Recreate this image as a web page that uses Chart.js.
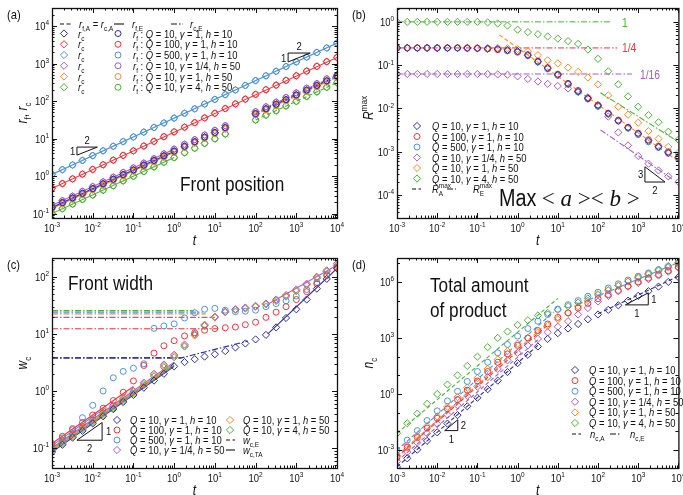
<!DOCTYPE html>
<html><head><meta charset="utf-8">
<script src="https://cdn.jsdelivr.net/npm/chart.js@4.4.0/dist/chart.umd.min.js"></script>
<style>
html,body{margin:0;padding:0;background:#fff;}
#wrap{position:relative;width:683px;height:495px;overflow:hidden;background:#fff;}
canvas{position:absolute;}
</style></head><body>
<div id="wrap">
<canvas id="pa" width="345" height="248" style="left:0;top:0"></canvas>
<canvas id="pb" width="338" height="248" style="left:345px;top:0"></canvas>
<canvas id="pc" width="345" height="247" style="left:0;top:248px"></canvas>
<canvas id="pd" width="338" height="247" style="left:345px;top:248px"></canvas>
</div>
<script>
// sample times (shared by every panel)
const tGrid = [0.001,0.0018,0.0032,0.0056,0.01,0.018,0.032,0.056,0.1,0.18,0.32,0.56,1,1.8,3.2,5.6,10,18,32,56,100,180,320,560,1000,1800,3200,5600,10000];
const xTicks = [1e-3,1e-2,1e-1,1,10,100,1000,1e4];

// series: navy, red, light blue, purple, orange, green
const Q = ['10','100','500','10','10','10'];
const G = ['1','1','1','1/4','1','4'];
const H = ['10','10','10','50','50','50'];
const colors = ['#2d2d9b','#e8363d','#4f93d2','#a45dbd','#f48a2a','#4dae3b'];
const marks = ['rectRot','circle','circle','rectRot','rectRot','rectRot'];

// (a) front position r_f / r_c
const aNavy   = [0.145,0.195,0.26,0.345,0.46,0.62,0.82,1.09,1.45,1.95,2.6,3.45,4.6,6.2,8.2,10.9,14.5,19.5,null,null,46,62,82,109,145,195,260,345,460];
const aRed    = [0.47,0.63,0.84,1.12,1.5,2.0,2.65,3.55,4.7,6.3,8.4,11.2,15,20,26.5,35.5,47,63,84,112,150,200,265,355,470,630,840,1120,1450];
const aBlue   = [1.1,1.48,1.97,2.6,3.5,4.7,6.2,8.3,11,14.8,19.7,26,35,47,62,83,110,148,197,260,350,470,620,830,1100,1480,1970,2600,3500];
const aPurple = [0.165,0.22,0.29,0.39,0.52,0.7,0.93,1.24,1.65,2.2,2.9,3.9,5.2,7,9.3,12.4,16.5,22,null,null,52,70,93,124,165,220,290,390,490];
const aOrange = [0.135,0.18,0.24,0.32,0.43,0.57,0.76,1.01,1.35,1.8,2.4,3.2,4.3,5.8,7.6,10.2,13.5,18,null,null,43,58,76,102,135,180,240,320,430];
const aGreen  = [0.1,0.134,0.178,0.237,0.31,0.42,0.55,0.74,0.98,1.32,1.75,2.33,3.1,4.2,5.5,7.4,9.8,13.2,null,null,31,42,55,74,98,132,175,233,310];
const aYTicks = [0.1,1,10,100,1000,1e4];
const aFullT = [0.001,10000];
const aFullBlue = [1.1,3500];
const aFullRed = [0.47,1450];
const aEarlyT = [0.001,1];
const aEarly = [[0.145,4.6],[0.165,5.2],[0.135,4.3],[0.1,3.1]];
const aLateT = [100,10000];
const aLate = [[46,460],[50,490],[43,430],[31,310]];

// (b) R^max
const bNavy   = [0.25,0.25,0.25,0.25,0.25,0.25,0.25,0.248,0.245,0.24,0.235,0.225,0.21,0.17,0.12,0.085,0.06,0.037,0.025,0.017,0.0115,0.0076,0.0052,0.0036,0.0026,0.0018,0.0013,0.00095,0.00074];
const bRed    = [0.25,0.25,0.25,0.25,0.25,0.25,0.25,0.25,0.245,0.24,0.23,0.215,0.2,0.175,0.125,0.088,0.062,0.038,0.026,0.0175,0.012,0.0078,0.0054,0.0037,0.0027,0.0019,0.00135,0.001,0.00078];
const bBlue   = [0.25,0.25,0.25,0.25,0.25,0.25,0.25,0.245,0.245,0.238,0.228,0.215,0.2,0.165,0.118,0.082,0.058,0.036,0.024,0.0165,0.0112,0.0074,0.0051,0.0035,0.0025,0.0017,0.00125,0.00092,0.0007];
const bPurple = [0.0625,0.0625,0.0625,0.0625,0.0625,0.0625,0.0625,0.0625,0.0625,0.062,0.061,0.06,0.055,0.048,0.042,0.037,0.033,0.029,0.024,0.018,0.012,0.0065,0.0028,0.0014,0.0008,0.00053,0.00037,0.00027,0.0002];
const bOrange = [0.25,0.25,0.25,0.25,0.25,0.25,0.25,0.25,0.25,0.25,0.25,0.245,0.235,0.21,0.17,0.13,0.11,0.088,0.07,0.052,0.036,0.02,0.011,0.0072,0.0047,0.003,0.002,0.0013,0.00095];
const bGreen  = [1,1,1,1,1,1,1,1,1,0.97,0.92,0.82,0.66,0.58,0.52,0.46,0.41,0.36,0.31,0.23,0.14,0.072,0.036,0.019,0.011,0.007,0.0048,0.0029,0.0019];
const bYTicks = [1e-4,1e-3,1e-2,1e-1,1];
const bPlateau = [[0.001,200,1],[0.001,300,0.25],[0.001,700,0.0625]];
const bSlopeOrangeT = [0.35,10000], bSlopeOrange = [0.5,0.0006];
const bSlopeGreenT = [115,10000], bSlopeGreen = [0.023,0.0017];
const bSlopePurpleT = [115,7200], bSlopePurple = [0.0032,0.00023];

// (c) front width w_c
const cNavy   = [0.085,0.114,0.152,0.2,0.27,0.36,0.48,0.64,0.85,1.14,1.52,2.0,2.7,3.2,3.6,4.0,4.4,5.0,5.8,6.8,8.0,9.6,13,19,27,40,62,92,140];
const cRed    = [0.12,0.16,0.21,0.28,0.38,0.5,0.68,0.95,1.5,2.8,4.6,6.2,7.6,9.2,10.5,11.6,12.4,12.8,13.2,14.5,16,19.5,24,30,40,55,75,105,145];
const cBlue   = [0.11,0.15,0.22,0.34,0.56,1.0,1.7,2.2,2.5,3.0,12.5,13.8,15,19,23.5,27,28,26,24.5,25,26,30,34,38,46,60,80,110,150];
const cPurple = [0.1,0.134,0.178,0.237,0.316,0.42,0.56,0.75,1.0,1.4,2.0,2.9,4.3,6.5,10,14.5,20,24.5,27,29,31,34,40,48,60,76,100,130,170];
const cOrange = [0.095,0.127,0.17,0.225,0.3,0.4,0.53,0.71,0.95,1.33,1.9,2.75,4.1,6.2,9.6,14,19.5,24,26.5,28,30,33,38,46,57,73,96,125,160];
const cGreen  = [0.09,0.12,0.16,0.213,0.285,0.38,0.5,0.67,0.9,1.26,1.8,2.6,3.9,6,9.4,13.8,19.5,24,26.5,28,30,33,38,45,56,72,95,124,158];
const cYTicks = [0.1,1,10,100];
const cPlatEnd = [1.5,12,5,10,6,3];
const cPlatVal = [3.8,12.3,24,19.5,22.5,25.5];
const cEarlyEnd = [1,0.1,0.02,1,1,1];
const cEarlyFrom = [0.085,0.12,0.11,0.1,0.095,0.09];
const cEarlyTo = [2.7,1.2,0.5,3.2,3.0,2.85];
const cNavyET = [0.001,1.5,65], cNavyE = [3.8,3.8,7.5];
const cLateT = [200,10000], cLateNavy = [10,140], cLateRest = [33,160];

// (d) total amount of product n_c
const dNavy   = [1.26e-4,3.6e-4,1.05e-3,3.1e-3,8.9e-3,0.026,0.074,0.22,0.63,1.8,5.2,15,45,126,350,890,1800,3200,5600,1e4,1.8e4,3.2e4,5.6e4,1e5,1.8e5,3.2e5,5.6e5,1e6,1.8e6];
const dRed    = [4.3e-4,1.4e-3,4.7e-3,0.015,0.05,0.16,0.5,1.6,5,16,50,140,400,1000,2500,5600,12600,22000,40000,71000,1.26e5,2.1e5,3.5e5,6e5,1e6,1.6e6,2.5e6,4e6,6.3e6];
const dBlue   = [1e-3,3.4e-3,0.011,0.038,0.126,0.43,1.4,4.7,16,50,160,450,1260,3200,7900,18000,35000,60000,1e5,1.7e5,2.8e5,4.7e5,7.9e5,1.26e6,2e6,3e6,4.5e6,6.6e6,1e7];
const dPurple = [2.5e-4,7.9e-4,2.5e-3,7.9e-3,0.025,0.079,0.25,0.79,2.5,7.9,22,63,160,400,890,2000,4000,7900,18000,40000,89000,1.8e5,3.2e5,5.6e5,8.9e5,1.4e6,2.2e6,3.5e6,5.6e6];
const dOrange = [5e-4,1.7e-3,5.6e-3,0.019,0.063,0.21,0.68,2.2,7.1,22,71,200,500,1000,2000,4500,10000,22000,50000,1e5,2e5,3.5e5,6.3e5,1.07e6,1.6e6,2.5e6,4e6,6e6,8.5e6];
const dGreen  = [7.9e-3,0.027,0.089,0.3,1.0,3.2,10,32,100,320,1000,2200,5000,8900,16000,22000,32000,50000,79000,1.3e5,2.2e5,3.7e5,6.3e5,1.05e6,1.8e6,2.8e6,4.5e6,7.1e6,1.1e7];
const dYTicks = [1e-3,1,1e3,1e6];
const dEarlyFrom = [1.26e-4,4.3e-4,1e-3,2.5e-4,5e-4,7.9e-3];
const dEarlyEnd = [3.2,5,8,3.2,6.3,10];
const dEarlyTo = [400,4000,2.5e4,800,8000,1.3e5];
const dLateNavyT = [100,10000], dLateNavy = [2e4,2e6];
const dLateTopT = [30,10000], dLateTop = [6e4,1.1e7];

const FONT = '"Liberation Sans", Arial, sans-serif';
const SX = 0.86;
const DASH = [4,2.5], DOT = [6,2,1.5,2];

function pts(ts, vs) {
  return ts.map((t, i) => ({x: t, y: vs[i]})).filter(p => p.y != null);
}
function markSet(data, color, style) {
  return {data, showLine: false, pointStyle: style, pointRadius: style === 'circle' ? 3 : 3.6,
    borderColor: color, backgroundColor: 'rgba(0,0,0,0)', borderWidth: 1, pointHoverRadius: 0};
}
function lineSet(data, color, dash, w) {
  return {data, showLine: true, pointRadius: 0, borderColor: color, borderWidth: w || 1.1,
    borderDash: dash || [], fill: false, tension: 0};
}

// text made of normal / italic / sub / sup runs
function rich(ctx, x, y, parts, size, align) {
  const fonts = parts.map(p => {
    const small = p[1].includes('b') || p[1].includes('p');
    return (p[1].includes('i') ? 'italic ' : '') + (small ? size * 0.68 : size) + 'px ' + FONT;
  });
  let w = 0;
  parts.forEach((p, k) => { ctx.font = fonts[k]; w += ctx.measureText(p[0]).width; });
  ctx.save();
  ctx.translate(x, y);
  ctx.scale(SX, 1);
  ctx.textAlign = 'left';
  ctx.textBaseline = 'alphabetic';
  let cx = align === 'right' ? -w : align === 'center' ? -w / 2 : 0;
  parts.forEach((p, k) => {
    ctx.font = fonts[k];
    let dy = 0;
    if (p[1].includes('b')) dy = size * 0.28;
    if (p[1].includes('p')) dy = -size * 0.42;
    ctx.fillText(p[0], cx, dy);
    cx += ctx.measureText(p[0]).width;
  });
  ctx.restore();
  return w * SX;
}

function drawMark(ctx, x, y, type, color) {
  ctx.save();
  ctx.strokeStyle = color; ctx.lineWidth = 1; ctx.setLineDash([]);
  ctx.beginPath();
  if (type === 'circle') ctx.arc(x, y, 3, 0, 2 * Math.PI);
  else { const r = 3.6; ctx.moveTo(x, y - r); ctx.lineTo(x + r, y); ctx.lineTo(x, y + r); ctx.lineTo(x - r, y); ctx.closePath(); }
  ctx.stroke();
  ctx.restore();
}
function drawSample(ctx, x0, x1, y, dash) {
  ctx.save();
  ctx.strokeStyle = '#111'; ctx.lineWidth = 1.1; ctx.setLineDash(dash);
  ctx.beginPath(); ctx.moveTo(x0, y); ctx.lineTo(x1, y); ctx.stroke();
  ctx.restore();
}

function seriesLabel(i) {
  return [['Q','i'],[' = ' + Q[i] + ', ','n'],['γ','i'],[' = ' + G[i] + ', ','n'],['h','i'],[' = ' + H[i],'n']];
}
function expLabel(v) {
  return [['10','n'],[String(Math.round(Math.log10(v))),'p']];
}

// frame, inward ticks, tick labels
function axes(chart, yTicks, decadeMinorsOnly) {
  const {ctx, chartArea: a, scales: {x: sx, y: sy}} = chart;
  ctx.save();
  ctx.fillStyle = '#111';
  ctx.strokeStyle = '#111';
  ctx.setLineDash([]);
  ctx.lineWidth = 1;
  ctx.beginPath();
  for (let d = -3; d <= 4; d++) {
    for (let k = 1; k < 10; k++) {
      const v = k * Math.pow(10, d);
      if (v > sx.max * 1.0001) break;
      const px = Math.round(sx.getPixelForValue(v)) + 0.5;
      const L = k === 1 ? 5 : 2.5;
      ctx.moveTo(px, a.bottom); ctx.lineTo(px, a.bottom - L);
      ctx.moveTo(px, a.top); ctx.lineTo(px, a.top + L);
    }
  }
  const lo = Math.floor(Math.log10(sy.min)), hi = Math.ceil(Math.log10(sy.max));
  for (let d = lo; d <= hi; d++) {
    for (let k = 1; k < 10; k++) {
      if (decadeMinorsOnly && k > 1) break;
      const v = k * Math.pow(10, d);
      if (v < sy.min || v > sy.max) continue;
      const py = Math.round(sy.getPixelForValue(v)) + 0.5;
      const major = k === 1 && yTicks.some(t => Math.abs(t / v - 1) < 1e-6);
      const L = major ? 5 : (k === 1 ? 3 : 2.5);
      ctx.moveTo(a.left, py); ctx.lineTo(a.left + L, py);
      ctx.moveTo(a.right, py); ctx.lineTo(a.right - L, py);
    }
  }
  ctx.stroke();
  ctx.lineWidth = 1.3;
  ctx.strokeRect(a.left + 0.5, a.top + 0.5, a.right - a.left, a.bottom - a.top);
  xTicks.forEach(v => rich(ctx, sx.getPixelForValue(v), a.bottom + 14, expLabel(v), 11, 'center'));
  yTicks.forEach(v => rich(ctx, a.left - 3, sy.getPixelForValue(v) + 4, expLabel(v), 11, 'right'));
  rich(ctx, (a.left + a.right) / 2, a.bottom + 27, [['t','i']], 14, 'center');
  ctx.restore();
}
function yTitle(ctx, x, y, parts) {
  ctx.save();
  ctx.fillStyle = '#111';
  ctx.translate(x, y);
  ctx.rotate(-Math.PI / 2);
  rich(ctx, 0, 0, parts, 14, 'center');
  ctx.restore();
}
function tri(chart, t0, t1, v0, v1, corner) {
  const {ctx, scales: {x: sx, y: sy}} = chart;
  const X0 = sx.getPixelForValue(t0), X1 = sx.getPixelForValue(t1);
  const Y0 = sy.getPixelForValue(v0), Y1 = sy.getPixelForValue(v1);
  ctx.save();
  ctx.strokeStyle = '#111'; ctx.lineWidth = 1; ctx.setLineDash([]);
  ctx.beginPath();
  if (corner === 'tl') { ctx.moveTo(X0, Y0); ctx.lineTo(X0, Y1); ctx.lineTo(X1, Y1); }
  else if (corner === 'bl') { ctx.moveTo(X0, Y1); ctx.lineTo(X0, Y0); ctx.lineTo(X1, Y0); }
  else { ctx.moveTo(X0, Y0); ctx.lineTo(X1, Y0); ctx.lineTo(X1, Y1); }
  ctx.closePath();
  ctx.stroke();
  ctx.restore();
  return {X0, X1, Y0, Y1};
}

function makeChart(id, datasets, yMin, yMax, pad, xH, decor) {
  return new Chart(document.getElementById(id), {
    type: 'scatter',
    data: {datasets},
    options: {
      responsive: false, animation: false, devicePixelRatio: 1,
      layout: {padding: pad},
      plugins: {legend: {display: false}, tooltip: {enabled: false}},
      scales: {
        x: {type: 'logarithmic', min: 1e-3, max: 1e4, ticks: {display: false}, grid: {display: false},
            border: {display: false}, afterFit: s => { s.height = xH; }},
        y: {type: 'logarithmic', min: yMin, max: yMax, ticks: {display: false}, grid: {display: false},
            border: {display: false}, afterFit: s => { s.width = 52; }}
      }
    },
    plugins: [{id: 'deco' + id, afterDraw: decor}]
  });
}

// ---------- (a) ----------
const aSeries = [aNavy, aRed, aBlue, aPurple, aOrange, aGreen];
const aSets = [];
aSeries.forEach((s, i) => aSets.push(markSet(pts(tGrid, s), colors[i], 'circle')));
aSeries.forEach((s, i) => aSets.push(markSet(pts(tGrid, s), colors[i], 'rectRot')));
aSets.push(lineSet(pts(aFullT, aFullBlue), colors[2]));
aSets.push(lineSet(pts(aFullT, aFullRed), colors[1]));
[0, 3, 4, 5].forEach((ci, k) => {
  aSets.push(lineSet(pts(aEarlyT, aEarly[k]), colors[ci]));
  aSets.push(lineSet(pts(aLateT, aLate[k]), colors[ci], DASH));
});
makeChart('pa', aSets, Math.pow(10, -1.12), Math.pow(10, 4.48), {top: 8, right: 8}, 30, chart => {
  const ctx = chart.ctx;
  axes(chart, aYTicks, false);
  ctx.save();
  ctx.fillStyle = '#111';
  rich(ctx, 7, 19, [['(a)','n']], 13);
  yTitle(ctx, 27, 113, [['r','i'],['f','b'],[', ','n'],['r','i'],['c','b']]);
  // legend
  drawSample(ctx, 60, 72, 24, DASH);
  rich(ctx, 79, 28, [['r','i'],['f,A','b'],[' = ','n'],['r','i'],['c,A','b']], 11);
  drawSample(ctx, 114, 124, 24, []);
  rich(ctx, 132, 28, [['r','i'],['f,E','b']], 11);
  drawSample(ctx, 171, 183, 24, DOT);
  rich(ctx, 190, 28, [['r','i'],['c,E','b']], 11);
  for (let i = 0; i < 6; i++) {
    const y = 33.5 + i * 10.75;
    drawMark(ctx, 64, y, 'rectRot', colors[i]);
    ctx.fillStyle = '#111';
    rich(ctx, 78, y + 4, [['r','i'],['c','b']], 11);
    drawMark(ctx, 118, y, 'circle', colors[i]);
    ctx.fillStyle = '#111';
    rich(ctx, 133, y + 4, [['r','i'],['f','b'],[' : ','n']].concat(seriesLabel(i)), 11);
  }
  rich(ctx, 180, 191, [['Front position','n']], 20);
  let p = tri(chart, 0.0041, 0.013, 3.6, 5.9, 'tl');
  rich(ctx, p.X0 - 7, p.Y0, [['1','n']], 11);
  rich(ctx, (p.X0 + p.X1) / 2, p.Y1 - 3, [['2','n']], 11, 'center');
  p = tri(chart, 630, 2200, 1100, 1900, 'tl');
  rich(ctx, p.X0 - 7, p.Y0, [['1','n']], 11);
  rich(ctx, (p.X0 + p.X1) / 2, p.Y1 - 3, [['2','n']], 11, 'center');
  ctx.restore();
});

// ---------- (b) ----------
const bSeries = [bNavy, bRed, bBlue, bPurple, bOrange, bGreen];
const bSets = bSeries.map((s, i) => markSet(pts(tGrid, s), colors[i], marks[i]));
[5, 1, 3].forEach((ci, k) => {
  const p = bPlateau[k];
  bSets.push(lineSet(pts([p[0], p[1]], [p[2], p[2]]), colors[ci], DOT, 1));
});
bSets.push(lineSet(pts(bSlopeOrangeT, bSlopeOrange), colors[4], DASH));
bSets.push(lineSet(pts(bSlopeGreenT, bSlopeGreen), colors[5], DOT));
bSets.push(lineSet(pts(bSlopePurpleT, bSlopePurple), colors[3], DOT));
makeChart('pb', bSets, Math.pow(10, -4.53), Math.pow(10, 0.32), {top: 8, right: 2}, 30, chart => {
  const ctx = chart.ctx;
  axes(chart, bYTicks, false);
  ctx.save();
  ctx.fillStyle = '#111';
  rich(ctx, 7, 19, [['(b)','n']], 13);
  yTitle(ctx, 28, 108, [['R','i'],['max','p']]);
  ctx.fillStyle = colors[5]; rich(ctx, 277, 27, [['1','n']], 12);
  ctx.fillStyle = colors[1]; rich(ctx, 277, 52, [['1/4','n']], 12);
  ctx.fillStyle = colors[3]; rich(ctx, 295, 79, [['1/16','n']], 12);
  for (let i = 0; i < 6; i++) {
    const y = 126 + i * 10.5;
    drawMark(ctx, 72, y, marks[i], colors[i]);
    ctx.fillStyle = '#111';
    rich(ctx, 87, y + 4, seriesLabel(i), 11);
  }
  drawSample(ctx, 67, 76, 189, DASH);
  let w = rich(ctx, 87, 193, [['R','i']], 11);
  rich(ctx, 87 + w, 193, [['A','b']], 11); rich(ctx, 87 + w, 193, [['max','p']], 11);
  drawSample(ctx, 102, 111, 189, DOT);
  w = rich(ctx, 128, 193, [['R','i']], 11);
  rich(ctx, 128 + w, 193, [['E','b']], 11); rich(ctx, 128 + w, 193, [['max','p']], 11);
  // big formula
  w = rich(ctx, 154, 206, [['Max ','n']], 23);
  ctx.save();
  ctx.textBaseline = 'alphabetic';
  let x = 154 + w;
  [['< ', ''], ['a', 'italic '], [' >< ', ''], ['b', 'italic '], [' >', '']].forEach(p => {
    ctx.font = p[1] + '23px "Liberation Serif", serif';
    ctx.fillText(p[0], x, 206);
    x += ctx.measureText(p[0]).width;
  });
  ctx.restore();
  const p = tri(chart, 1470, 4640, 2e-4, 4.5e-4, 'bl');
  rich(ctx, p.X0 - 7, (p.Y0 + p.Y1) / 2 + 4, [['3','n']], 11);
  rich(ctx, (p.X0 + p.X1) / 2, p.Y0 + 12, [['2','n']], 11, 'center');
  ctx.restore();
});

// ---------- (c) ----------
const cSeries = [cNavy, cRed, cBlue, cPurple, cOrange, cGreen];
const cSets = cSeries.map((s, i) => markSet(pts(tGrid, s), colors[i], marks[i]));
cSeries.forEach((s, i) => {
  cSets.push(lineSet(pts([0.001, cPlatEnd[i]], [cPlatVal[i], cPlatVal[i]]), colors[i], DOT, 1.2));
  cSets.push(lineSet(pts([0.001, cEarlyEnd[i]], [cEarlyFrom[i], cEarlyTo[i]]), colors[i]));
});
cSets.push(lineSet(pts(cNavyET, cNavyE), colors[0], DOT, 1.2));
cSets.push(lineSet(pts(cLateT, cLateNavy), colors[0]));
cSets.push(lineSet(pts(cLateT, cLateRest), colors[3]));
makeChart('pc', cSets, Math.pow(10, -1.35), Math.pow(10, 2.33), {top: 10, right: 8}, 27, chart => {
  const ctx = chart.ctx;
  axes(chart, cYTicks, false);
  ctx.save();
  ctx.fillStyle = '#111';
  rich(ctx, 7, 21, [['(c)','n']], 13);
  yTitle(ctx, 27, 115, [['w','i'],['c','b']]);
  rich(ctx, 68, 42, [['Front width','n']], 20);
  const rows = [172, 182, 192, 202];
  [0, 1, 2, 3].forEach((i, r) => {
    drawMark(ctx, 117, rows[r], marks[i], colors[i]);
    ctx.fillStyle = '#111';
    rich(ctx, 130, rows[r] + 4, seriesLabel(i), 11);
  });
  [4, 5].forEach((i, r) => {
    drawMark(ctx, 230, rows[r], marks[i], colors[i]);
    ctx.fillStyle = '#111';
    rich(ctx, 243, rows[r] + 4, seriesLabel(i), 11);
  });
  drawSample(ctx, 226, 235, rows[2], DASH);
  rich(ctx, 243, rows[2] + 4, [['w','i'],['c,E','b']], 11);
  drawSample(ctx, 226, 235, rows[3], []);
  rich(ctx, 243, rows[3] + 4, [['w','i'],['c,TA','b']], 11);
  const p = tri(chart, 0.0041, 0.017, 0.137, 0.28, 'br');
  rich(ctx, p.X1 + 4, (p.Y0 + p.Y1) / 2 + 4, [['1','n']], 11);
  rich(ctx, (p.X0 + p.X1) / 2, p.Y0 + 12, [['2','n']], 11, 'center');
  ctx.restore();
});

// ---------- (d) ----------
const dSeries = [dNavy, dRed, dBlue, dPurple, dOrange, dGreen];
const dSets = dSeries.map((s, i) => markSet(pts(tGrid, s), colors[i], marks[i]));
dSeries.forEach((s, i) => {
  dSets.push(lineSet(pts([0.001, dEarlyEnd[i]], [dEarlyFrom[i], dEarlyTo[i]]), colors[i], DASH));
});
dSets.push(lineSet(pts(dLateNavyT, dLateNavy), colors[0], DASH));
dSets.push(lineSet(pts(dLateTopT, dLateTop), colors[2], DOT));
makeChart('pd', dSets, Math.pow(10, -3.96), Math.pow(10, 7.28), {top: 10, right: 2}, 27, chart => {
  const ctx = chart.ctx;
  axes(chart, dYTicks, true);
  ctx.save();
  ctx.fillStyle = '#111';
  rich(ctx, 7, 21, [['(d)','n']], 13);
  yTitle(ctx, 28, 115, [['n','i'],['c','b']]);
  rich(ctx, 85, 44, [['Total amount','n']], 20);
  rich(ctx, 85, 69, [['of product','n']], 20);
  for (let i = 0; i < 6; i++) {
    const y = 122 + i * 10.6;
    drawMark(ctx, 230, y, marks[i], colors[i]);
    ctx.fillStyle = '#111';
    rich(ctx, 244, y + 4, seriesLabel(i), 11);
  }
  drawSample(ctx, 227, 236, 186, DASH);
  rich(ctx, 245, 190, [['n','i'],['c,A','b']], 11);
  drawSample(ctx, 265, 276, 186, DOT);
  rich(ctx, 285, 190, [['n','i'],['c,E','b']], 11);
  let p = tri(chart, 0.0154, 0.0325, 0.011, 0.042, 'br');
  rich(ctx, p.X1 + 3, (p.Y0 + p.Y1) / 2 + 4, [['2','n']], 11);
  rich(ctx, (p.X0 + p.X1) / 2, p.Y0 + 12, [['1','n']], 11, 'center');
  p = tri(chart, 480, 1780, 5.9e4, 2.6e5, 'br');
  rich(ctx, p.X1 + 3, (p.Y0 + p.Y1) / 2 + 4, [['1','n']], 11);
  rich(ctx, (p.X0 + p.X1) / 2, p.Y0 + 12, [['1','n']], 11, 'center');
  ctx.restore();
});
</script>
</body></html>
